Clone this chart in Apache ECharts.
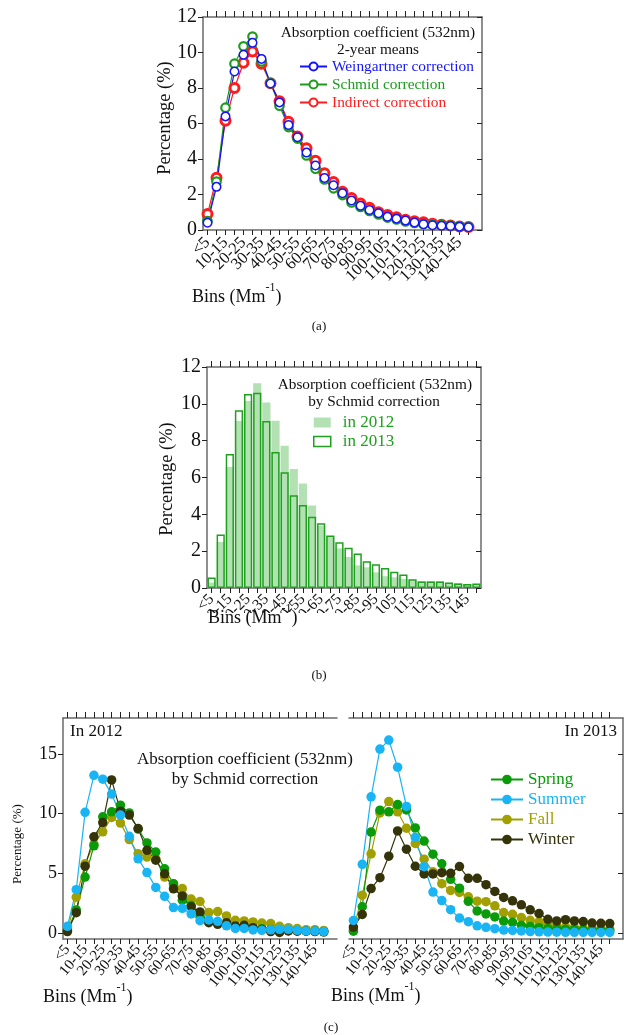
<!DOCTYPE html>
<html>
<head>
<meta charset="utf-8">
<script src="https://cdn.jsdelivr.net/npm/echarts@6/dist/echarts.min.js"></script>
<style>
html,body{margin:0;padding:0;background:#fff}
#chart{width:624px;height:1035px}
</style>
</head>
<body>
<div id="chart"></div>
<script>
// Bin labels of the absorption coefficient (Mm^-1)
const bins = ['<5','5-10','10-15','15-20','20-25','25-30','30-35','35-40','40-45','45-50',
  '50-55','55-60','60-65','65-70','70-75','75-80','80-85','85-90','90-95','95-100',
  '100-105','105-110','110-115','115-120','120-125','125-130','130-135','135-140','140-145','145-150'];

// (a) two-year mean frequency distributions (%)
const weingartner = [0.41,2.43,6.40,8.93,9.87,10.55,9.64,8.25,7.19,5.91,5.23,4.36,3.63,2.93,2.52,2.07,1.66,1.37,1.13,0.94,0.75,0.64,0.53,0.42,0.32,0.27,0.24,0.23,0.19,0.15];
const schmid      = [0.50,2.73,6.89,9.37,10.35,10.90,9.50,8.27,7.00,5.80,5.15,4.20,3.45,2.85,2.35,1.97,1.55,1.30,1.07,0.88,0.70,0.60,0.48,0.40,0.33,0.30,0.27,0.25,0.21,0.17];
const indirect    = [0.90,2.95,6.15,8.00,9.42,10.05,9.36,8.27,7.25,6.10,5.27,4.60,3.90,3.20,2.70,2.15,1.80,1.50,1.25,1.00,0.85,0.72,0.58,0.50,0.43,0.35,0.30,0.25,0.20,0.17];

// (b) yearly distributions, Schmid correction (%)
const year2012 = [0.30,2.50,6.57,9.07,10.15,11.12,10.07,9.08,7.72,6.46,5.67,4.48,3.38,2.80,2.15,1.68,1.23,1.12,0.85,0.64,0.58,0.49,0.42,0.38,0.38,0.37,0.28,0.27,0.22,0.20];
const year2013 = [0.57,2.91,7.27,9.65,10.53,10.60,9.07,7.39,6.29,5.04,4.51,3.87,3.52,2.85,2.48,2.18,1.87,1.45,1.29,1.08,0.88,0.73,0.48,0.35,0.35,0.35,0.30,0.25,0.22,0.25];

// (c) seasonal distributions, Schmid correction (%)
const spring2012 = [0.20,1.93,4.68,7.30,9.73,10.15,10.70,10.05,8.70,7.54,6.78,5.38,4.12,2.75,2.30,1.50,0.95,0.85,0.70,0.55,0.50,0.40,0.35,0.30,0.25,0.20,0.20,0.15,0.15,0.10];
const summer2012 = [0.56,3.63,10.10,13.20,12.88,11.63,9.88,8.10,6.21,5.06,3.82,3.07,2.13,2.07,1.60,1.03,1.10,0.98,0.60,0.38,0.38,0.26,0.23,0.27,0.31,0.31,0.23,0.18,0.17,0.12];
const fall2012   = [0.25,3.00,5.80,7.45,8.47,9.67,9.20,7.82,6.64,6.36,6.20,4.68,4.12,3.72,2.84,2.64,1.71,1.80,1.43,1.07,1.01,0.93,0.84,0.79,0.56,0.45,0.37,0.28,0.28,0.22];
const winter2012 = [0.12,1.70,5.60,8.05,9.25,12.82,10.20,9.87,8.75,6.92,6.10,4.96,3.70,3.10,2.20,1.77,0.87,0.73,0.87,0.59,0.65,0.45,0.30,0.12,0.05,0.17,0.15,0.15,0.12,0.10];

const spring2013 = [0.15,2.20,8.45,10.28,10.15,10.75,10.30,8.80,7.70,6.60,5.80,4.50,3.75,2.65,1.85,1.60,1.35,1.00,0.90,0.65,0.55,0.45,0.38,0.35,0.30,0.28,0.25,0.25,0.22,0.20];
const summer2013 = [1.05,5.75,11.40,15.40,16.15,13.88,10.60,8.00,5.55,3.43,2.72,1.95,1.25,0.95,0.60,0.48,0.36,0.25,0.22,0.17,0.12,0.10,0.08,0.07,0.06,0.06,0.06,0.06,0.05,0.05];
const fall2013   = [0.30,3.17,6.63,10.05,11.00,10.15,8.77,7.50,6.18,5.12,4.13,3.57,3.40,3.03,2.67,2.62,2.28,1.71,1.57,1.29,1.07,0.93,0.73,0.59,0.51,0.45,0.39,0.37,0.35,0.31];
const winter2013 = [0.50,1.55,3.72,4.63,6.43,8.55,7.02,5.59,4.95,4.95,5.05,5.00,5.57,4.58,4.58,4.05,3.48,2.98,2.70,2.36,1.94,1.63,1.15,1.01,1.12,1.01,0.96,0.84,0.81,0.79];

// Axis tick values
const ticksAB = [0, 2, 4, 6, 8, 10, 12];
const ticksC = [0, 5, 10, 15];

const FONT = '"Liberation Serif","Times New Roman",serif';
const INK = '#111';
const C = {
  blue: '#1414ff', green: '#1c9c1c', red: '#ff1c1c',
  fill2012: '#b4e1b4', line2013: '#1fa01f',
  spring: '#0a9a0a', summer: '#18b4f4', fall: '#a29f00', winter: '#34330a'
};

const axisLine = { show: true, onZero: false, lineStyle: { color: '#6a6a6a', width: 1.5 } };
const tickLine = { color: '#222', width: 1 };
const n = bins.length;
// the plotted category range leaves one empty slot after the last bin in (a) and (c)
const binsWide = bins.concat(['']);

// every bin gets a tick, every other bin (up to 140-145) gets a label
function bottomX(gridIndex, data, fontSize, margin, rotate) {
  return {
    type: 'category', gridIndex, data, position: 'bottom', boundaryGap: true,
    axisLine,
    axisTick: { show: true, alignWithLabel: true, length: 5, interval: (i) => i < n, lineStyle: tickLine },
    axisLabel: {
      show: true, interval: 0, rotate, fontSize, fontFamily: FONT, color: INK, margin,
      formatter: (value, index) => (index % 2 === 0 && index < n - 1 ? value : '')
    },
    splitLine: { show: false }
  };
}
function topX(gridIndex, data) {
  return {
    type: 'category', gridIndex, data, position: 'top', boundaryGap: true,
    axisLine,
    axisTick: { show: true, alignWithLabel: true, length: 6, interval: (i) => i < n, lineStyle: tickLine },
    axisLabel: { show: false }, splitLine: { show: false }
  };
}
function valueY(gridIndex, position, min, max, ticks, labels, fontSize) {
  return {
    type: 'value', gridIndex, position, min, max,
    axisLine,
    axisTick: { show: true, inside: position === 'right', length: 5, customValues: ticks, lineStyle: tickLine },
    axisLabel: { show: labels, customValues: ticks, fontSize, fontFamily: FONT, color: INK, margin: 6 },
    splitLine: { show: false }
  };
}

function lineSeries(name, data, xi, yi, color, opts) {
  return Object.assign({
    name, type: 'line', data, xAxisIndex: xi, yAxisIndex: yi,
    symbol: 'circle', symbolSize: 9.5, showSymbol: true, showAllSymbol: true,
    lineStyle: { color, width: 1.2 },
    itemStyle: { color },
    emphasis: { disabled: true }
  }, opts || {});
}

function txt(text, x, y, size, opts) {
  return {
    type: 'text', x, y, z: 110, rotation: (opts && opts.rot) || 0, silent: true,
    style: Object.assign({ text, font: size + 'px ' + FONT, fill: INK,
      align: 'left', verticalAlign: 'middle' }, (opts && opts.style) || {})
  };
}
function binsLabel(x, y) {
  return {
    type: 'text', x, y, z: 110, silent: true,
    style: {
      text: '{n|Bins (Mm}{s|-1}{n|)}', align: 'left', verticalAlign: 'middle', fill: INK,
      rich: {
        n: { fontSize: 18, fontFamily: FONT, lineHeight: 30, fill: INK },
        s: { fontSize: 12, fontFamily: FONT, lineHeight: 12, verticalAlign: 'top', fill: INK }
      }
    }
  };
}

const chart = echarts.init(document.getElementById('chart'), null, { renderer: 'canvas' });

chart.setOption({
  animation: false,
  backgroundColor: '#fff',
  grid: [
    { left: 203, top: 17, width: 279, height: 213 },   // (a)
    { left: 207, top: 367, width: 274, height: 221 },  // (b)
    { left: 63, top: 718, width: 274, height: 221 },   // (c) 2012
    { left: 349, top: 718, width: 274, height: 221 }   // (c) 2013
  ],
  xAxis: [
    bottomX(0, binsWide, 16.5, 10, 45), topX(0, binsWide),
    bottomX(1, bins, 15.5, 9, 45), topX(1, bins),
    bottomX(2, binsWide, 15, 8, 50), topX(2, binsWide),
    bottomX(3, binsWide, 15, 8, 50), topX(3, binsWide)
  ],
  yAxis: [
    valueY(0, 'left', 0, 12, ticksAB, true, 20),
    valueY(0, 'right', 0, 12, ticksAB, false, 20),
    valueY(1, 'left', 0, 12, ticksAB, true, 20),
    valueY(1, 'right', 0, 12, ticksAB, false, 20),
    valueY(2, 'left', -0.5, 18, ticksC, true, 18),
    valueY(3, 'right', -0.5, 18, ticksC, false, 18)
  ],
  legend: [
    {
      left: 299, top: 59, orient: 'vertical', padding: 0,
      itemWidth: 27, itemHeight: 10, itemGap: 3, selectedMode: false,
      textStyle: { fontSize: 15.4, fontFamily: FONT },
      data: [
        { name: 'Weingartner correction', textStyle: { color: C.blue } },
        { name: 'Schmid correction', textStyle: { color: C.green } },
        { name: 'Indirect correction', textStyle: { color: C.red } }
      ]
    },
    {
      left: 313, top: 414, orient: 'vertical', padding: 0,
      itemWidth: 17, itemHeight: 10, itemGap: 2, selectedMode: false,
      textStyle: { fontSize: 17, fontFamily: FONT, color: C.line2013, padding: [0, 0, 0, 7] },
      data: [
        { name: 'in 2012', icon: 'rect', itemStyle: { color: C.fill2012, borderWidth: 0 } },
        { name: 'in 2013', icon: 'rect', itemStyle: { color: '#fff', borderColor: C.line2013, borderWidth: 1.5 } }
      ]
    },
    {
      left: 490, top: 771, orient: 'vertical', padding: 0,
      itemWidth: 32, itemHeight: 12, itemGap: 3, selectedMode: false,
      textStyle: { fontSize: 17, fontFamily: FONT },
      data: [
        { name: 'Spring', textStyle: { color: C.spring } },
        { name: 'Summer', textStyle: { color: C.summer } },
        { name: 'Fall', textStyle: { color: C.fall } },
        { name: 'Winter', textStyle: { color: C.winter } }
      ]
    }
  ],
  series: [
    // (a)
    lineSeries('Indirect correction', indirect, 0, 0, C.red,
      { symbolSize: 9, itemStyle: { color: '#fff', borderColor: C.red, borderWidth: 3 } }),
    lineSeries('Schmid correction', schmid, 0, 0, C.green,
      { symbolSize: 8.5, itemStyle: { color: '#fff', borderColor: C.green, borderWidth: 2.2 } }),
    lineSeries('Weingartner correction', weingartner, 0, 0, C.blue,
      { symbolSize: 8.5, itemStyle: { color: '#fff', borderColor: C.blue, borderWidth: 1.5 } }),
    // (b)
    {
      name: 'in 2012', type: 'bar', data: year2012, xAxisIndex: 2, yAxisIndex: 2,
      barWidth: '90%', barGap: '-100%', itemStyle: { color: C.fill2012 }, emphasis: { disabled: true }
    },
    {
      name: 'in 2013', type: 'bar', data: year2013, xAxisIndex: 2, yAxisIndex: 2,
      barWidth: '90%', barGap: '-100%',
      itemStyle: { color: 'rgba(255,255,255,0)', borderColor: C.line2013, borderWidth: 1.5 },
      emphasis: { disabled: true }
    },
    // (c) 2012
    lineSeries('Fall', fall2012, 4, 4, C.fall),
    lineSeries('Spring', spring2012, 4, 4, C.spring),
    lineSeries('Winter', winter2012, 4, 4, C.winter),
    lineSeries('Summer', summer2012, 4, 4, C.summer),
    // (c) 2013
    lineSeries('Fall', fall2013, 6, 5, C.fall),
    lineSeries('Spring', spring2013, 6, 5, C.spring),
    lineSeries('Winter', winter2013, 6, 5, C.winter),
    lineSeries('Summer', summer2013, 6, 5, C.summer)
  ],
  graphic: [
    // (a)
    txt('Absorption coefficient (532nm)', 475, 33, 15.3, { style: { align: 'right' } }),
    txt('2-year means', 378, 50, 15.3, { style: { align: 'center' } }),
    txt('Percentage (%)', 165, 118, 18.5, { rot: Math.PI / 2, style: { align: 'center' } }),
    binsLabel(192, 297),
    txt('(a)', 319, 327, 13, { style: { align: 'center' } }),
    // (b): the panel is trimmed just under its bin labels, the axis title sits below the cut
    { type: 'rect', z: 100, silent: true, shape: { x: 180, y: 613, width: 320, height: 30 }, style: { fill: '#fff' } },
    txt('Absorption coefficient (532nm)', 472, 385, 15.3, { style: { align: 'right' } }),
    txt('by Schmid correction', 374, 402, 15.3, { style: { align: 'center' } }),
    txt('Percentage (%)', 167, 479, 18.5, { rot: Math.PI / 2, style: { align: 'center' } }),
    binsLabel(208, 618),
    txt('(b)', 319, 676, 13, { style: { align: 'center' } }),
    // (c)
    txt('In 2012', 70, 732, 17),
    txt('In 2013', 617, 732, 17, { style: { align: 'right' } }),
    txt('Absorption coefficient (532nm)', 137, 760, 17),
    txt('by Schmid correction', 245, 780, 17, { style: { align: 'center' } }),
    txt('Percentage (%)', 18, 844, 13, { rot: Math.PI / 2, style: { align: 'center' } }),
    binsLabel(43, 997),
    binsLabel(331, 996),
    txt('(c)', 331, 1028, 13, { style: { align: 'center' } })
  ]
});
</script>
</body>
</html>
